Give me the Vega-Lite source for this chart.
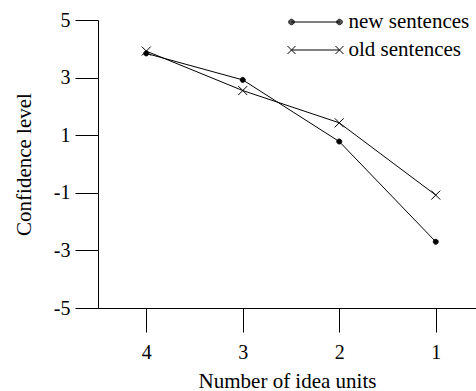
{
  "$schema": "https://vega.github.io/schema/vega-lite/v6.json",
  "autosize": "none",
  "width": 378,
  "height": 288,
  "padding": {"left": 98, "top": 20, "right": 0, "bottom": 83},
  "background": "white",
  "config": {
    "view": {"stroke": null},
    "font": "Liberation Serif",
    "axis": {
      "domainColor": "black", "domainWidth": 1, "tickColor": "black", "tickWidth": 1,
      "labelColor": "black", "titleColor": "black", "labelFont": "Liberation Serif", "titleFont": "Liberation Serif",
      "labelFontSize": 20, "titleFontSize": 21, "titleFontWeight": "normal", "grid": false
    },
    "legend": {"labelFont": "Liberation Serif", "labelFontSize": 21, "labelColor": "black"}
  },
  "data": {
    "values": [
      {"units": 4, "series": "new sentences", "confidence": 3.84},
      {"units": 3, "series": "new sentences", "confidence": 2.92},
      {"units": 2, "series": "new sentences", "confidence": 0.78},
      {"units": 1, "series": "new sentences", "confidence": -2.7},
      {"units": 4, "series": "old sentences", "confidence": 3.92},
      {"units": 3, "series": "old sentences", "confidence": 2.55},
      {"units": 2, "series": "old sentences", "confidence": 1.43},
      {"units": 1, "series": "old sentences", "confidence": -1.08}
    ]
  },
  "encoding": {
    "x": {
      "field": "units", "type": "quantitative",
      "scale": {"domain": [4.5, 0.583], "nice": false, "zero": false},
      "axis": {"title": "Number of idea units", "values": [4, 3, 2, 1], "format": "d", "tickSize": 24, "labelPadding": 10, "titlePadding": 8, "labelFlush": false, "labelOverlap": false}
    },
    "y": {
      "field": "confidence", "type": "quantitative",
      "scale": {"domain": [-5, 5], "nice": false, "zero": false},
      "axis": {"title": "Confidence level", "values": [-5, -3, -1, 1, 3, 5], "labelExpr": "datum.value < 0 ? '-' + abs(datum.value) : '' + datum.value", "tickSize": 23, "labelPadding": 5, "titlePadding": 19, "labelFlush": false, "labelOverlap": false}
    }
  },
  "resolve": {"scale": {"shape": "independent"}, "legend": {"shape": "independent"}},
  "layer": [
    {
      "mark": {"type": "line", "color": "black", "strokeWidth": 1},
      "encoding": {"detail": {"field": "series"}}
    },
    {
      "mark": {"type": "point", "filled": true, "fill": "black", "stroke": "black", "strokeWidth": 1, "opacity": 1, "size": 81},
      "encoding": {
        "shape": {
          "field": "series", "type": "nominal",
          "scale": {"domain": ["new sentences", "old sentences"], "range": ["M-0.55,0A0.55,0.55 0 1,1 0.55,0A0.55,0.55 0 1,1 -0.55,0Z", "M-1,-1L1,1M-1,1L1,-1"]},
          "legend": null
        }
      }
    },
    {
      "mark": {"type": "point", "filled": false, "color": "black", "stroke": "black", "strokeWidth": 1, "opacity": 0, "size": 100},
      "encoding": {
        "shape": {
          "field": "series", "type": "nominal",
          "scale": {"domain": ["new sentences", "old sentences"], "range": ["M-8.6,0L1,0M-9.15,0A0.55,0.55 0 1,1 -8.05,0A0.55,0.55 0 1,1 -9.15,0M-8.95,0A0.35,0.35 0 1,1 -8.25,0A0.35,0.35 0 1,1 -8.95,0M-8.77,0A0.17,0.17 0 1,1 -8.43,0A0.17,0.17 0 1,1 -8.77,0M0.45,0A0.55,0.55 0 1,1 1.55,0A0.55,0.55 0 1,1 0.45,0M0.65,0A0.35,0.35 0 1,1 1.35,0A0.35,0.35 0 1,1 0.65,0M0.83,0A0.17,0.17 0 1,1 1.17,0A0.17,0.17 0 1,1 0.83,0", "M-8.6,0L1,0M-9.4,-0.8L-7.8,0.8M-9.4,0.8L-7.8,-0.8M0.2,-0.8L1.8,0.8M0.2,0.8L1.8,-0.8"]},
          "legend": {
            "title": null, "orient": "none", "legendX": 226, "legendY": -8.5, "padding": 0,
            "rowPadding": 6, "labelOffset": 3.5, "symbolSize": 100,
            "symbolOpacity": 1, "symbolStrokeColor": "black", "symbolStrokeWidth": 1
          }
        }
      }
    }
  ]
}
